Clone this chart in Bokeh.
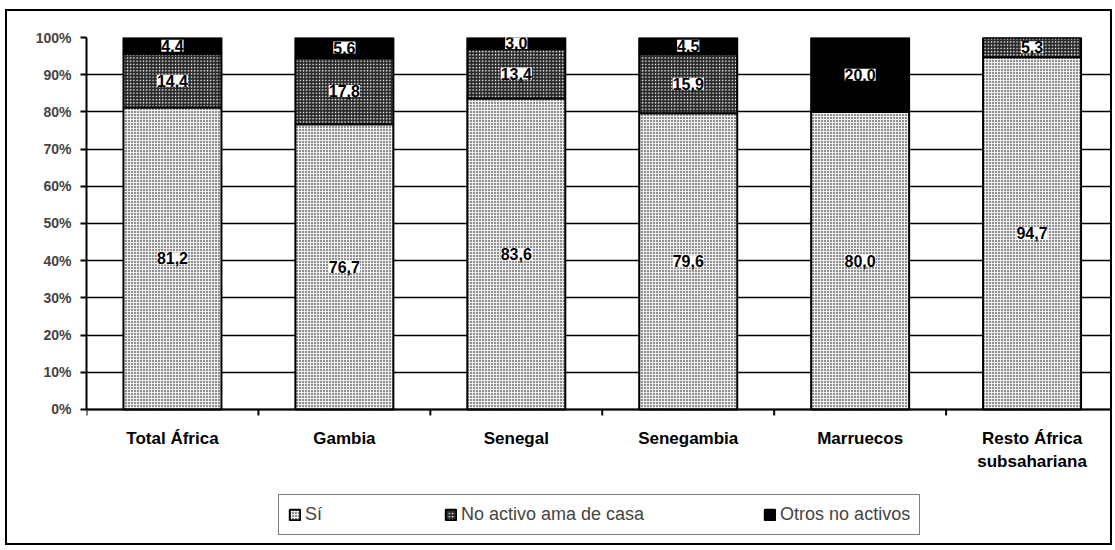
from bokeh.plotting import figure
from bokeh.models import (ColumnDataSource, LabelSet, Legend, LegendItem,
                          FixedTicker, Range1d, Span)
from bokeh.core.properties import value
from bokeh.embed import file_html
from bokeh.resources import INLINE

# ---- data ----
categories = ["Total África", "Gambia", "Senegal", "Senegambia", "Marruecos",
              "Resto África\nsubsahariana"]
si = [81.2, 76.7, 83.6, 79.6, 80.0, 94.7]
no_activo = [14.4, 17.8, 13.4, 15.9, 0.0, 5.3]
otros = [4.4, 5.6, 3.0, 4.5, 20.0, 0.0]
series_names = ["Sí", "No activo ama de casa", "Otros no activos"]
y_ticks = [0, 10, 20, 30, 40, 50, 60, 70, 80, 90, 100]
y_tick_labels = [f"{t}%" for t in y_ticks]

FONT = "Liberation Sans"
xs = list(range(len(categories)))

# ---- layout (pixels) ----
W, H = 1107, 536          # includes the 2px CSS border
BORDER = 2
LEFT, TOP = 79, 26
PX_PER_PCT = 3.69
PX_PER_CAT = 171.25
frame_h = H - 2 * BORDER - TOP
frame_w = W - 2 * BORDER - LEFT
y_start = 100 - frame_h / PX_PER_PCT
x_end = -0.5 + frame_w / PX_PER_CAT

p = figure(width=W, height=H, output_backend="svg", toolbar_location=None,
           x_range=Range1d(-0.5, x_end), y_range=Range1d(y_start, 100),
           x_axis_location=None,
           min_border_left=LEFT, min_border_top=TOP, min_border_bottom=0,
           min_border_right=0)
p.styles = {"border": f"{BORDER}px solid black", "box-sizing": "border-box",
            "margin": "9px 0 0 5px"}
p.outline_line_color = None
p.background_fill_color = "white"

# stacked segments
series = [si, no_activo, otros]
styles = [
    dict(fill_color="#eeeeee", hatch_pattern="dot", hatch_color="black",
         hatch_scale=3.0, hatch_weight=1.4),
    dict(fill_color="#262626", hatch_pattern="dot", hatch_color="white",
         hatch_scale=3.2, hatch_weight=1.1),
    dict(fill_color="black"),
]
renderers = []
label_x, label_y, label_t = [], [], []
bottoms = [0.0] * len(categories)
for vals, st in zip(series, styles):
    tops = [b + v for b, v in zip(bottoms, vals)]
    src = ColumnDataSource(dict(x=xs, bottom=bottoms, top=tops))
    r = p.vbar(x="x", bottom="bottom", top="top", width=0.57, source=src,
               line_color="black", line_width=2, **st)
    renderers.append(r)
    for x, b, v in zip(xs, bottoms, vals):
        if v > 0:
            label_x.append(x)
            label_y.append(b + v / 2)
            label_t.append(f"{v:.1f}".replace(".", ","))
    bottoms = tops

lsrc = ColumnDataSource(dict(x=label_x, y=label_y, t=label_t))
labels = LabelSet(x="x", y="y", text="t", source=lsrc,
                  text_align="center", text_baseline="middle",
                  text_font=value(FONT), text_font_size="16px",
                  text_font_style="bold",
                  text_color="black", background_fill_color="white",
                  background_fill_alpha=1.0)
p.add_layout(labels)

# grid
p.xgrid.grid_line_color = None
p.ygrid.ticker = FixedTicker(ticks=y_ticks)
p.ygrid.grid_line_color = "black"
p.ygrid.grid_line_width = 1.5
p.ygrid.level = "underlay"

# y axis
p.yaxis.ticker = FixedTicker(ticks=y_ticks)
p.yaxis.bounds = (0, 100)
p.yaxis.major_label_overrides = dict(zip(y_ticks, y_tick_labels))
p.yaxis.axis_line_color = "black"
p.yaxis.axis_line_width = 2
p.yaxis.major_tick_in = 0
p.yaxis.major_tick_out = 6
p.yaxis.major_tick_line_width = 2
p.yaxis.minor_tick_line_color = None
p.yaxis.major_label_text_font = FONT
p.yaxis.major_label_text_font_size = "14px"
p.yaxis.major_label_text_font_style = "bold"
p.yaxis.major_label_standoff = 9

# category (x) axis drawn inside the frame
p.add_layout(Span(location=0, dimension="width", line_color="black",
                  line_width=2, level="overlay"))
bounds = [i - 0.5 for i in range(len(categories) + 1)]
tick_len = 6 / PX_PER_PCT
p.segment(x0=bounds, y0=[0] * len(bounds), x1=bounds,
          y1=[-tick_len] * len(bounds), line_color="black", line_width=2)
p.text(x=xs, y=[0] * len(xs), text=categories, y_offset=20,
       text_align="center", text_baseline="top",
       text_font=value(FONT), text_font_size="17px", text_font_style="bold",
       text_line_height=1.2, text_color="black")

legend = Legend(items=[LegendItem(label=n, renderers=[r])
                       for n, r in zip(series_names, renderers)],
                orientation="horizontal", location=(192, 12),
                label_text_font=FONT, label_text_font_size="18px",
                glyph_width=13, glyph_height=13, label_standoff=4,
                spacing=119, padding=9, margin=0,
                border_line_color="black", border_line_width=1.5,
                background_fill_color="white", background_fill_alpha=1.0)
p.add_layout(legend, "center")

open("out.html", "w").write(file_html(p, INLINE))
